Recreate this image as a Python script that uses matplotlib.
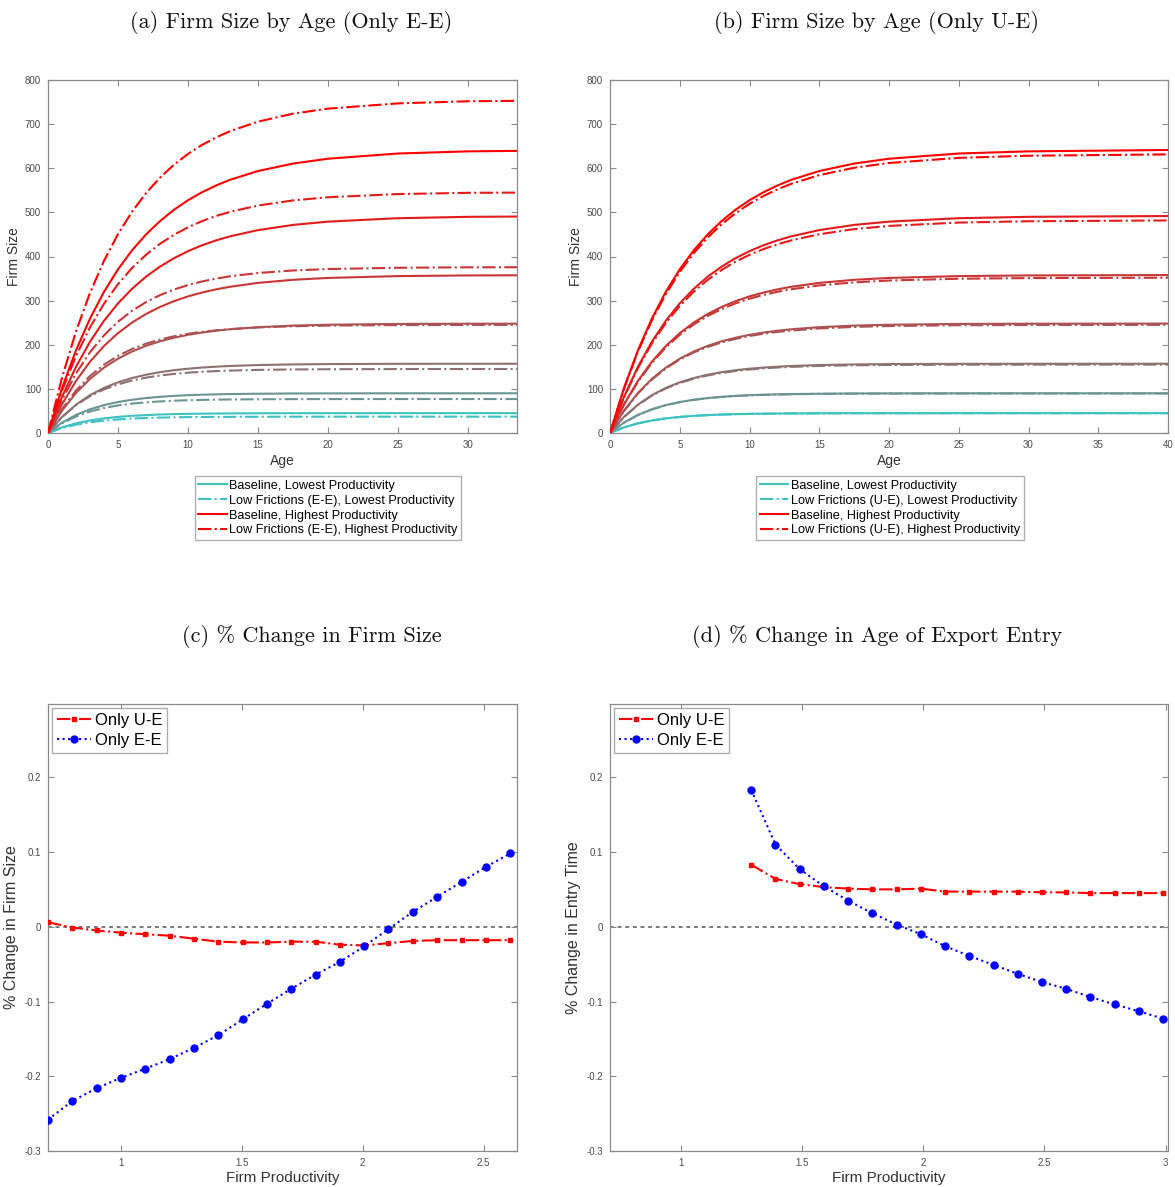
import numpy as np
import matplotlib
matplotlib.use("Agg")
import matplotlib.pyplot as plt
from matplotlib.lines import Line2D

# ---------------- data ----------------
ages = [0, 1, 2, 3, 4, 5, 6, 7, 8, 9, 10, 11, 12, 13, 15, 17.5, 20, 25, 30, 40]

# Baseline firm size by age, lowest -> highest productivity
baseline = [
    [0, 12.8, 21.9, 28.4, 33.1, 36.5, 38.9, 40.6, 41.9, 42.8, 43.4, 43.8, 44.2, 44.4, 44.7, 44.9, 44.9, 45.0, 45.0, 45.0],
    [0, 23.5, 40.9, 53.7, 63.2, 70.2, 75.4, 79.2, 82.0, 84.1, 85.7, 86.8, 87.6, 88.2, 89.0, 89.6, 89.8, 90.0, 90.0, 90.0],
    [0, 36.3, 64.2, 85.7, 102.2, 114.9, 124.6, 132.1, 137.9, 142.3, 145.7, 148.3, 150.3, 151.9, 154.0, 155.4, 156.2, 156.8, 156.9, 157.0],
    [0, 50.4, 90.6, 122.6, 148.1, 168.4, 184.6, 197.5, 207.8, 215.9, 222.5, 227.6, 231.8, 235.1, 239.8, 243.4, 245.4, 247.2, 247.7, 248.0],
    [0, 64.9, 118.0, 161.5, 197.2, 226.3, 250.2, 269.7, 285.7, 298.8, 309.6, 318.3, 325.5, 331.4, 340.2, 347.2, 351.4, 355.6, 357.1, 357.9],
    [0, 81.8, 150.0, 206.9, 254.3, 293.8, 326.7, 354.2, 377.1, 396.2, 412.1, 425.4, 436.5, 445.7, 459.8, 471.6, 479.0, 486.8, 489.9, 491.7],
    [0, 101.7, 187.3, 259.2, 319.9, 370.9, 413.8, 450.0, 480.3, 506.0, 527.5, 545.6, 560.9, 573.8, 593.7, 610.6, 621.6, 633.4, 638.3, 641.4],
]

# Low frictions (E-E only)
low_ee = [
    [0, 11.1, 18.9, 24.3, 28.1, 30.8, 32.7, 34.0, 34.9, 35.5, 36.0, 36.3, 36.5, 36.6, 36.8, 36.9, 37.0, 37.0, 37.0, 37.0],
    [0, 21.8, 37.5, 48.7, 56.7, 62.5, 66.6, 69.5, 71.6, 73.2, 74.3, 75.0, 75.6, 76.0, 76.5, 76.8, 76.9, 77.0, 77.0, 77.0],
    [0, 36.0, 63.1, 83.5, 98.8, 110.2, 118.9, 125.4, 130.3, 133.9, 136.7, 138.7, 140.3, 141.5, 143.0, 144.0, 144.5, 144.9, 145.0, 145.0],
    [0, 54.2, 96.4, 129.3, 154.9, 174.8, 190.3, 202.4, 211.9, 219.2, 224.9, 229.3, 232.8, 235.5, 239.2, 241.9, 243.4, 244.5, 244.9, 245.0],
    [0, 74.9, 134.9, 183.0, 221.4, 252.2, 276.9, 296.6, 312.5, 325.1, 335.2, 343.4, 349.9, 355.1, 362.6, 368.3, 371.6, 374.5, 375.5, 376.0],
    [0, 95.5, 174.3, 239.4, 293.0, 337.3, 373.8, 403.9, 428.8, 449.2, 466.2, 480.2, 491.7, 501.2, 515.5, 527.1, 534.3, 541.5, 544.3, 545.7],
    [0, 125.5, 230.2, 317.5, 390.2, 450.8, 501.4, 543.5, 578.7, 608.0, 632.5, 652.8, 669.8, 684.0, 705.6, 723.7, 735.1, 747.0, 751.8, 754.5],
]

# Low frictions (U-E only)
low_ue = [
    [0, 12.7, 21.8, 28.3, 33.0, 36.3, 38.7, 40.5, 41.7, 42.6, 43.2, 43.7, 44.0, 44.2, 44.5, 44.7, 44.7, 44.8, 44.8, 44.8],
    [0, 23.4, 40.7, 53.4, 62.9, 69.8, 75.0, 78.8, 81.6, 83.6, 85.2, 86.3, 87.1, 87.8, 88.6, 89.1, 89.3, 89.5, 89.5, 89.5],
    [0, 35.9, 63.4, 84.6, 100.9, 113.4, 123.0, 130.4, 136.1, 140.5, 143.8, 146.4, 148.4, 149.9, 152.0, 153.5, 154.2, 154.8, 154.9, 155.0],
    [0, 49.8, 89.5, 121.1, 146.3, 166.4, 182.4, 195.1, 205.2, 213.3, 219.8, 224.9, 229.0, 232.2, 236.9, 240.4, 242.4, 244.2, 244.7, 245.0],
    [0, 63.8, 116.1, 158.8, 193.8, 222.5, 246.0, 265.2, 280.9, 293.8, 304.4, 313.0, 320.1, 325.8, 334.5, 341.4, 345.6, 349.6, 351.1, 351.9],
    [0, 80.1, 147.0, 202.7, 249.1, 287.8, 320.1, 347.0, 369.5, 388.2, 403.8, 416.8, 427.6, 436.6, 450.5, 462.0, 469.3, 476.9, 479.9, 481.7],
    [0, 100.1, 184.4, 255.2, 314.9, 365.1, 407.4, 443.0, 472.9, 498.1, 519.3, 537.1, 552.2, 564.8, 584.4, 601.1, 611.9, 623.5, 628.4, 631.4],
]

# Panel (c): % change in firm size
prod_c = [0.700, 0.801, 0.901, 1.002, 1.102, 1.203, 1.303, 1.404, 1.504, 1.605,
          1.705, 1.806, 1.906, 2.007, 2.107, 2.208, 2.308, 2.409, 2.509, 2.610]
size_ue = [0.006, -0.001, -0.005, -0.008, -0.010, -0.012, -0.016, -0.020, -0.021, -0.021,
           -0.020, -0.020, -0.024, -0.025, -0.022, -0.019, -0.018, -0.018, -0.018, -0.018]
size_ee = [-0.258, -0.233, -0.216, -0.202, -0.190, -0.177, -0.162, -0.145, -0.124, -0.103,
           -0.083, -0.064, -0.047, -0.026, -0.003, 0.020, 0.040, 0.060, 0.080, 0.098]

# Panel (d): % change in age of export entry
prod_d = [1.29, 1.39, 1.49, 1.59, 1.69, 1.79, 1.89, 1.99, 2.09, 2.19,
          2.29, 2.39, 2.49, 2.59, 2.69, 2.79, 2.89, 2.99]
entry_ue = [0.083, 0.064, 0.057, 0.053, 0.051, 0.050, 0.050, 0.051, 0.047, 0.047,
            0.047, 0.047, 0.046, 0.046, 0.045, 0.045, 0.045, 0.045]
entry_ee = [0.183, 0.110, 0.077, 0.054, 0.035, 0.018, 0.003, -0.010, -0.026, -0.039,
            -0.051, -0.063, -0.074, -0.083, -0.094, -0.104, -0.113, -0.123]

titles = ["(a) Firm Size by Age (Only E-E)", "(b) Firm Size by Age (Only U-E)",
          "(c) % Change in Firm Size", "(d) % Change in Age of Export Entry"]

# ---------------- style ----------------
plt.rcParams['font.family'] = ['Liberation Sans', 'DejaVu Sans']
SPINE = '#8a8a8a'
TICKC = '#4a4a4a'

W, H = 1175, 1187
fig = plt.figure(figsize=(W / 100, H / 100), dpi=100)


def px_axes(l, t, r, b):
    return fig.add_axes([l / W, 1 - b / H, (r - l) / W, (b - t) / H])


def style_axes(ax, fs=7):
    for s in ax.spines.values():
        s.set_color(SPINE)
        s.set_linewidth(0.9)
    ax.tick_params(direction='in', top=True, right=True, length=4, width=0.8,
                   colors=SPINE, labelcolor=TICKC, labelsize=fs, pad=5)


c_low = np.array([0.24, 0.76, 0.76])
c_high = np.array([1.0, 0.0, 0.0])
n_lev = len(baseline)
cols = [tuple(float(v) for v in np.clip(c_low + (c_high - c_low) * (i / (n_lev - 1)) ** 0.8, 0, 1))
        for i in range(n_lev)]


def top_panel(ax, alt, xmax, xticks, tag):
    for i in range(n_lev):
        ax.plot(ages, baseline[i], '-', color=cols[i], lw=1.5, zorder=3)
        ax.plot(ages, alt[i], '-.', color=cols[i], lw=1.5, zorder=3)
    ax.set_xlim(0, xmax)
    ax.set_ylim(0, 800)
    ax.set_xticks(list(xticks))
    ax.set_yticks(range(0, 801, 100))
    style_axes(ax)
    ax.set_xlabel('Age', fontsize=10, color='#333333', labelpad=3)
    ax.set_ylabel('Firm Size', fontsize=10, color='#333333', labelpad=3)
    h = [Line2D([], [], color=cols[0], lw=1.5, ls='-'),
         Line2D([], [], color=cols[0], lw=1.5, ls='-.'),
         Line2D([], [], color=cols[-1], lw=1.5, ls='-'),
         Line2D([], [], color=cols[-1], lw=1.5, ls='-.')]
    labs = ['Baseline, Lowest Productivity',
            f'Low Frictions ({tag}), Lowest Productivity',
            'Baseline, Highest Productivity',
            f'Low Frictions ({tag}), Highest Productivity']
    return h, labs


leg_kw = dict(loc='upper center', fontsize=9.2, frameon=True, fancybox=False,
              edgecolor='#999999', handlelength=2.2, handletextpad=0.2,
              labelspacing=0.22, borderpad=0.3, borderaxespad=0)

axa = px_axes(48, 80, 517, 433)
h, labs = top_panel(axa, low_ee, 33.5, range(0, 31, 5), 'E-E')
axa.legend(h, labs, bbox_to_anchor=(0.597, -0.122), **leg_kw)

axb = px_axes(610, 80, 1168, 433)
h, labs = top_panel(axb, low_ue, 40, range(0, 41, 5), 'U-E')
axb.legend(h, labs, bbox_to_anchor=(0.502, -0.122), **leg_kw)


def fmt(v):
    return f'{v:g}'


def bottom_panel(ax, x, y_ue, y_ee, xlim, xticks, ylab):
    ax.axhline(0, color='#555555', lw=1.1, ls=(0, (2.5, 2.5)), zorder=1)
    ax.plot(x, y_ue, '-.', color='#ff0000', lw=1.5, marker='s', ms=3.5,
            mfc='#ff0000', mec='#ff0000', label='Only U-E', zorder=3)
    ax.plot(x, y_ee, ':', color='#0000ff', lw=1.5, marker='o', ms=5,
            mfc='#0000ff', mec='#0000ff', label='Only E-E', zorder=3)
    ax.set_xlim(*xlim)
    ax.set_ylim(-0.3, 0.298)
    ax.set_xticks(xticks)
    ax.set_xticklabels([fmt(v) for v in xticks])
    yt = [-0.3, -0.2, -0.1, 0, 0.1, 0.2]
    ax.set_yticks(yt)
    ax.set_yticklabels([fmt(v) for v in yt])
    style_axes(ax)
    ax.set_xlabel('Firm Productivity', fontsize=11, color='#333333', labelpad=2)
    ax.set_ylabel(ylab, fontsize=11.5, color='#333333', labelpad=4)
    ax.legend(loc='upper left', fontsize=12, frameon=True, fancybox=False,
              edgecolor='#999999', handlelength=2.0, handletextpad=0.25,
              labelspacing=0.3, borderpad=0.3, borderaxespad=0.25)


axc = px_axes(48, 704, 517, 1151)
bottom_panel(axc, prod_c, size_ue, size_ee, (0.70, 2.638), [1, 1.5, 2, 2.5],
             '% Change in Firm Size')

axd = px_axes(610, 704, 1168, 1151)
bottom_panel(axd, prod_d, entry_ue, entry_ee, (0.707, 3.01), [1, 1.5, 2, 2.5, 3],
             '% Change in Entry Time')

for (xc, yc), t in zip([(291, 22), (876, 22), (312, 637), (877, 637)], titles):
    fig.text(xc / W, 1 - yc / H, t, ha='center', va='center', fontsize=16,
             family='cmr10', color='#111111')

fig.savefig('out.png', dpi=100)
